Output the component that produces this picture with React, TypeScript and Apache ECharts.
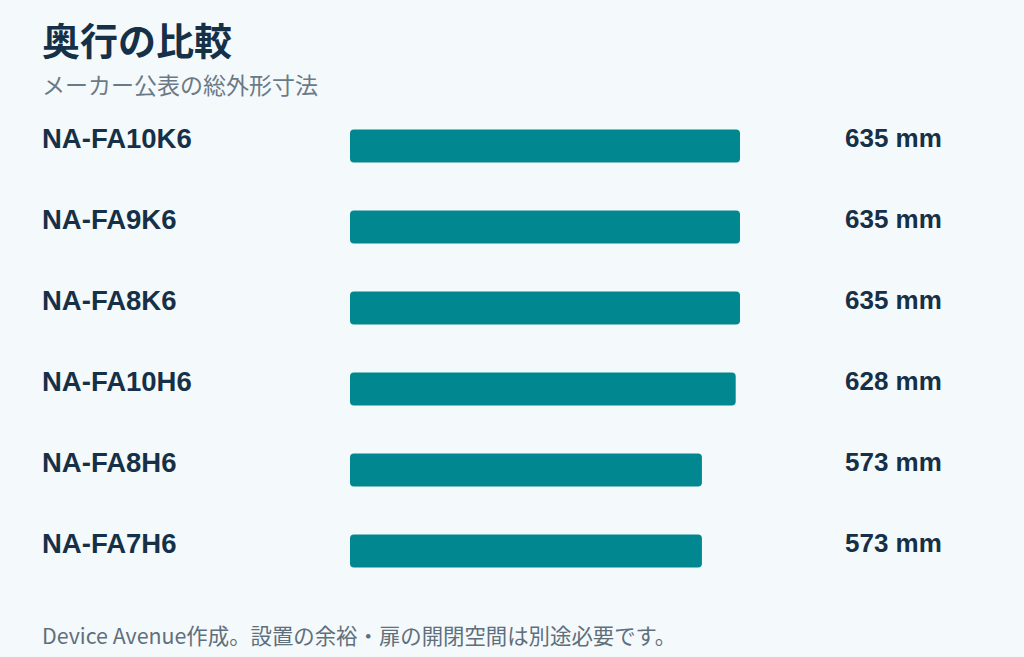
import React, { useEffect, useRef } from "react";
import * as echarts from "echarts";

const models = ["NA-FA10K6", "NA-FA9K6", "NA-FA8K6", "NA-FA10H6", "NA-FA8H6", "NA-FA7H6"];
const depths = [635, 635, 635, 628, 573, 573];
const unit = "mm";
const titleText = "奥行の比較";
const subtitleText = "メーカー公表の総外形寸法";
const footerText = "Device Avenue作成。設置の余裕・扉の開閉空間は別途必要です。";

const FONT = "'Noto Sans CJK JP', 'Noto Sans', sans-serif";
const LATIN = "'Liberation Sans', Arial, sans-serif";
const DARK = "#163048";

export default function App() {
  const ref = useRef<HTMLDivElement>(null);
  useEffect(() => {
    if (!ref.current) return;
    const chart = echarts.init(ref.current, null, { renderer: "svg" });
    chart.setOption({
      animation: false,
      backgroundColor: "#f4f9fb",
      title: [
        {
          text: titleText,
          left: 37,
          top: 14,
          textStyle: { fontFamily: FONT, fontSize: 38, fontWeight: "bold", color: DARK },
        },
        {
          text: subtitleText,
          left: 37,
          top: 67,
          textStyle: { fontFamily: FONT, fontSize: 23, fontWeight: "normal", color: "#6b7a87" },
        },
        {
          text: footerText,
          left: 37,
          top: 619,
          textStyle: { fontFamily: FONT, fontSize: 21.4, fontWeight: "normal", color: "#5f6f7c" },
        },
      ],
      grid: { left: 350, top: 105.5, width: 390, height: 486 },
      xAxis: {
        type: "value",
        min: 0,
        max: 635,
        show: false,
      },
      yAxis: [
        {
          type: "category",
          data: models,
          inverse: true,
          axisLine: { show: false },
          axisTick: { show: false },
          splitLine: { show: false },
          axisLabel: {
            align: "left",
            verticalAlign: "bottom",
            lineHeight: 16,
            margin: 308,
            fontFamily: LATIN,
            fontSize: 27.5,
            fontWeight: "bold",
            color: DARK,
          },
        },
        {
          type: "category",
          data: depths.map((d) => `${d} ${unit}`),
          inverse: true,
          position: "right",
          axisLine: { show: false },
          axisTick: { show: false },
          splitLine: { show: false },
          axisLabel: {
            align: "left",
            verticalAlign: "bottom",
            lineHeight: 16,
            margin: 105,
            fontFamily: LATIN,
            fontSize: 26,
            fontWeight: "bold",
            color: DARK,
          },
        },
      ],
      series: [
        {
          type: "bar",
          data: depths,
          barWidth: 33,
          itemStyle: { color: "#00878f", borderRadius: 4 },
          silent: true,
        },
      ],
    });
    return () => chart.dispose();
  }, []);
  return (
    <div
      ref={ref}
      style={{ position: "fixed", left: 0, top: 0, width: 1024, height: 657 }}
    />
  );
}
